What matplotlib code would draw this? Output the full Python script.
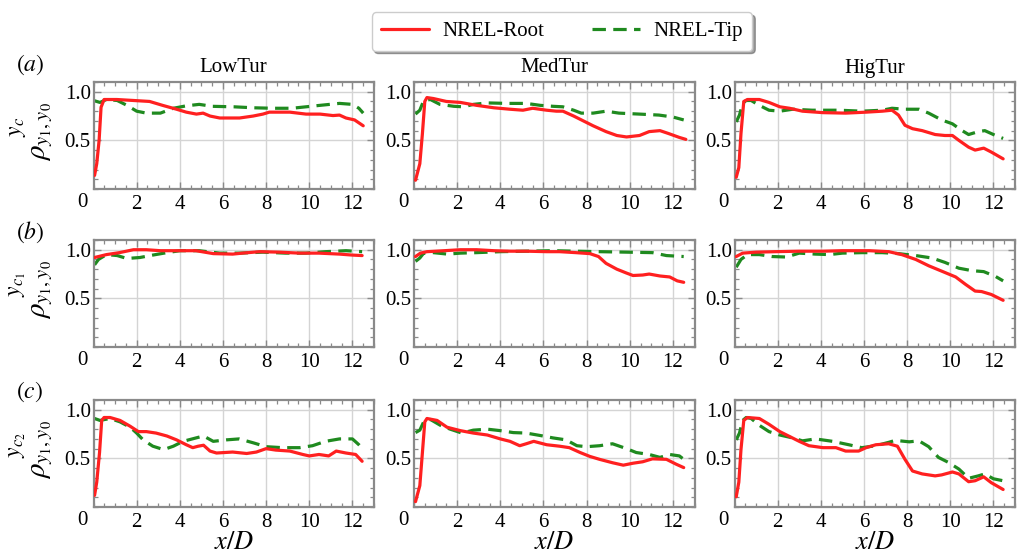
import matplotlib
matplotlib.use('Agg')
import matplotlib.pyplot as plt
from matplotlib.ticker import MultipleLocator, FixedLocator

plt.rcParams['font.family'] = ['Liberation Serif', 'DejaVu Serif']
plt.rcParams['mathtext.fontset'] = 'stix'

columns = ['LowTur', 'MedTur', 'HigTur']
row_tags = ['$(a)$', '$(b)$', '$(c)$']
ylabel_base = r'$\rho_{y_1,y_0}$'
ylabel_sups = [r'$y_c$', r'$y_{c_1}$', r'$y_{c_2}$']
series_names = ['NREL-Root', 'NREL-Tip']
xtick_values = [2, 4, 6, 8, 10, 12]
ytick_values = [0.5, 1.0]

# ---- row (a) ----
x_low_a_root = [0.05, 0.15, 0.26, 0.35, 0.49, 1.08, 1.85, 2.6, 3.2, 3.85, 4.3, 4.77, 5.08, 5.4, 5.85, 6.77, 7.4, 7.85, 8.15, 9.1, 9.85, 10.5, 11.1, 11.4, 11.7, 12.1, 12.5]
y_low_a_root = [0.14, 0.26, 0.50, 0.84, 0.92, 0.92, 0.91, 0.90, 0.86, 0.82, 0.79, 0.77, 0.78, 0.75, 0.73, 0.73, 0.75, 0.77, 0.79, 0.79, 0.77, 0.77, 0.755, 0.76, 0.73, 0.71, 0.65]
x_low_a_tip = [0.0, 0.3, 0.6, 1.1, 1.55, 2.0, 2.45, 3.1, 3.7, 4.3, 4.9, 5.5, 6.5, 7.4, 8.3, 9.2, 9.85, 10.5, 11.4, 12.0, 12.3, 12.5]
y_low_a_tip = [0.91, 0.89, 0.92, 0.91, 0.86, 0.80, 0.78, 0.78, 0.83, 0.855, 0.87, 0.85, 0.845, 0.835, 0.83, 0.83, 0.845, 0.86, 0.88, 0.87, 0.83, 0.78]

x_med_a_root = [0.07, 0.27, 0.39, 0.5, 0.6, 0.9, 1.5, 2.15, 2.9, 3.7, 4.45, 5.05, 5.5, 6.15, 6.6, 6.9, 7.4, 7.85, 8.3, 8.9, 9.4, 9.85, 10.45, 10.9, 11.4, 11.8, 12.3, 12.6]
y_med_a_root = [0.09, 0.26, 0.57, 0.90, 0.94, 0.93, 0.90, 0.89, 0.86, 0.835, 0.82, 0.81, 0.83, 0.81, 0.80, 0.80, 0.75, 0.70, 0.65, 0.59, 0.55, 0.535, 0.55, 0.59, 0.60, 0.57, 0.53, 0.51]
x_med_a_tip = [0.07, 0.27, 0.45, 0.76, 1.2, 1.85, 2.3, 2.75, 3.4, 4.3, 5.2, 5.85, 6.45, 6.9, 7.4, 7.75, 8.3, 8.9, 9.5, 10.45, 11.35, 12.0, 12.5]
y_med_a_tip = [0.77, 0.81, 0.91, 0.92, 0.87, 0.85, 0.845, 0.87, 0.885, 0.88, 0.88, 0.86, 0.85, 0.845, 0.81, 0.78, 0.78, 0.80, 0.78, 0.77, 0.76, 0.74, 0.71]

x_hig_a_root = [0.08, 0.2, 0.3, 0.43, 0.6, 1.15, 1.6, 2.1, 2.55, 3.15, 4.1, 5.15, 6.1, 6.85, 7.3, 7.6, 7.9, 8.25, 8.7, 9.3, 9.75, 10.1, 10.4, 10.85, 11.15, 11.55, 11.9, 12.45]
y_hig_a_root = [0.12, 0.22, 0.57, 0.90, 0.92, 0.92, 0.89, 0.845, 0.83, 0.80, 0.785, 0.78, 0.79, 0.80, 0.81, 0.76, 0.655, 0.62, 0.60, 0.56, 0.55, 0.55, 0.50, 0.43, 0.40, 0.42, 0.38, 0.31]
x_hig_a_tip = [0.08, 0.23, 0.38, 0.54, 0.77, 1.15, 1.6, 2.1, 2.7, 3.6, 4.85, 5.9, 6.85, 7.3, 7.9, 8.55, 9.0, 9.6, 10.1, 10.55, 10.85, 11.3, 11.6, 12.1, 12.45]
y_hig_a_tip = [0.69, 0.76, 0.88, 0.91, 0.91, 0.86, 0.81, 0.80, 0.82, 0.81, 0.81, 0.80, 0.81, 0.83, 0.82, 0.82, 0.78, 0.71, 0.67, 0.60, 0.56, 0.59, 0.60, 0.55, 0.52]

# ---- row (b) ----
x_low_b_root = [0.05, 0.6, 1.2, 1.85, 2.45, 3.1, 3.85, 4.75, 5.55, 6.45, 6.9, 7.7, 8.6, 9.55, 10.45, 11.4, 12.0, 12.45]
y_low_b_root = [0.92, 0.95, 0.97, 1.0, 1.0, 0.99, 0.99, 0.99, 0.96, 0.955, 0.965, 0.98, 0.975, 0.965, 0.965, 0.955, 0.945, 0.94]
x_low_b_tip = [0.05, 0.23, 0.6, 1.1, 1.55, 2.15, 2.75, 3.4, 4.0, 4.9, 5.85, 6.75, 7.85, 8.9, 9.85, 10.75, 11.7, 12.45]
y_low_b_tip = [0.845, 0.90, 0.95, 0.94, 0.91, 0.92, 0.945, 0.97, 0.99, 0.99, 0.965, 0.965, 0.975, 0.965, 0.965, 0.98, 0.99, 0.98]

x_med_b_root = [0.07, 0.3, 0.6, 1.4, 2.15, 2.9, 3.7, 4.45, 5.2, 6.15, 6.75, 7.5, 8.15, 8.55, 8.9, 9.4, 9.85, 10.15, 10.6, 10.9, 11.4, 11.85, 12.2, 12.5]
y_med_b_root = [0.93, 0.965, 0.98, 0.99, 1.0, 1.0, 0.99, 0.985, 0.985, 0.98, 0.98, 0.97, 0.96, 0.93, 0.86, 0.80, 0.76, 0.735, 0.74, 0.75, 0.73, 0.72, 0.68, 0.665]
x_med_b_tip = [0.07, 0.27, 0.45, 0.9, 1.55, 2.15, 2.9, 4.0, 5.2, 6.45, 7.5, 8.6, 9.85, 11.05, 11.7, 12.5]
y_med_b_tip = [0.88, 0.915, 0.965, 0.97, 0.955, 0.965, 0.97, 0.98, 0.985, 0.99, 0.985, 0.98, 0.975, 0.97, 0.94, 0.93]

x_hig_b_root = [0.08, 0.38, 1.0, 1.9, 3.0, 4.1, 5.0, 6.25, 7.15, 7.75, 8.4, 9.0, 9.6, 10.25, 10.7, 11.15, 11.45, 11.9, 12.45]
y_hig_b_root = [0.93, 0.965, 0.975, 0.98, 0.985, 0.985, 0.99, 0.99, 0.98, 0.95, 0.90, 0.835, 0.78, 0.72, 0.645, 0.575, 0.57, 0.54, 0.48]
x_hig_b_tip = [0.08, 0.3, 0.6, 1.15, 1.75, 2.4, 3.0, 3.75, 4.4, 5.0, 5.9, 6.85, 7.6, 8.4, 9.15, 9.75, 10.4, 11.0, 11.55, 12.1, 12.45]
y_hig_b_tip = [0.82, 0.90, 0.95, 0.95, 0.93, 0.925, 0.965, 0.955, 0.95, 0.965, 0.97, 0.97, 0.96, 0.94, 0.915, 0.87, 0.81, 0.785, 0.775, 0.725, 0.68]

# ---- row (c) ----
x_low_c_root = [0.05, 0.15, 0.28, 0.38, 0.49, 0.77, 1.23, 1.7, 2.08, 2.45, 2.9, 3.4, 3.85, 4.3, 4.6, 4.85, 5.1, 5.4, 5.7, 6.45, 7.1, 7.55, 8.0, 8.45, 9.1, 9.7, 10.0, 10.45, 10.9, 11.25, 11.7, 12.15, 12.45]
y_low_c_root = [0.12, 0.255, 0.56, 0.89, 0.92, 0.92, 0.89, 0.83, 0.775, 0.775, 0.76, 0.73, 0.69, 0.64, 0.61, 0.625, 0.635, 0.575, 0.555, 0.565, 0.55, 0.565, 0.60, 0.585, 0.575, 0.54, 0.525, 0.54, 0.525, 0.575, 0.555, 0.54, 0.47]
x_low_c_tip = [0.05, 0.3, 0.77, 1.23, 1.7, 2.0, 2.3, 2.75, 3.25, 3.7, 4.15, 4.75, 5.1, 5.55, 6.15, 6.75, 7.4, 8.0, 8.75, 9.55, 10.15, 10.75, 11.4, 12.0, 12.3, 12.5]
y_low_c_tip = [0.91, 0.89, 0.91, 0.875, 0.82, 0.76, 0.69, 0.625, 0.59, 0.625, 0.675, 0.71, 0.73, 0.675, 0.69, 0.70, 0.66, 0.62, 0.61, 0.61, 0.63, 0.675, 0.70, 0.70, 0.64, 0.59]

x_med_c_root = [0.07, 0.27, 0.39, 0.5, 0.6, 1.07, 1.53, 2.15, 2.75, 3.4, 4.0, 4.45, 4.9, 5.2, 5.55, 6.15, 6.75, 7.2, 7.7, 8.15, 8.6, 9.2, 9.7, 10.15, 10.6, 11.05, 11.7, 12.15, 12.5]
y_med_c_root = [0.055, 0.22, 0.56, 0.875, 0.91, 0.89, 0.82, 0.785, 0.76, 0.74, 0.70, 0.675, 0.63, 0.65, 0.675, 0.64, 0.625, 0.61, 0.56, 0.52, 0.49, 0.455, 0.43, 0.45, 0.465, 0.495, 0.49, 0.44, 0.405]
x_med_c_tip = [0.07, 0.27, 0.48, 0.76, 1.22, 1.68, 2.22, 2.75, 3.4, 4.0, 4.6, 5.2, 5.85, 6.45, 7.05, 7.55, 8.0, 8.6, 9.2, 9.85, 10.3, 10.9, 11.4, 11.85, 12.3, 12.5]
y_med_c_tip = [0.765, 0.79, 0.89, 0.90, 0.84, 0.80, 0.76, 0.79, 0.80, 0.785, 0.765, 0.76, 0.735, 0.71, 0.69, 0.63, 0.62, 0.63, 0.65, 0.60, 0.56, 0.54, 0.51, 0.54, 0.525, 0.49]

x_hig_c_root = [0.08, 0.2, 0.3, 0.43, 0.6, 1.15, 1.6, 2.1, 2.55, 3.0, 3.45, 4.1, 4.7, 5.15, 5.75, 6.1, 6.55, 7.15, 7.55, 7.9, 8.25, 8.7, 9.3, 9.6, 10.1, 10.4, 10.85, 11.15, 11.55, 11.9, 12.45]
y_hig_c_root = [0.105, 0.255, 0.59, 0.89, 0.92, 0.91, 0.85, 0.775, 0.725, 0.675, 0.63, 0.61, 0.61, 0.575, 0.575, 0.61, 0.64, 0.65, 0.625, 0.49, 0.37, 0.34, 0.32, 0.33, 0.36, 0.34, 0.26, 0.27, 0.31, 0.25, 0.18]
x_hig_c_tip = [0.08, 0.23, 0.38, 0.54, 0.77, 1.15, 1.6, 2.1, 2.7, 3.15, 3.75, 4.55, 5.3, 5.9, 6.55, 7.15, 7.45, 8.1, 8.55, 9.0, 9.45, 9.9, 10.4, 10.85, 11.3, 11.6, 12.0, 12.45]
y_hig_c_tip = [0.69, 0.76, 0.89, 0.92, 0.91, 0.84, 0.775, 0.74, 0.71, 0.68, 0.70, 0.675, 0.64, 0.61, 0.63, 0.665, 0.685, 0.67, 0.68, 0.62, 0.51, 0.46, 0.39, 0.295, 0.32, 0.34, 0.29, 0.27]

panels = [
    [((x_low_a_root, y_low_a_root), (x_low_a_tip, y_low_a_tip)),
     ((x_med_a_root, y_med_a_root), (x_med_a_tip, y_med_a_tip)),
     ((x_hig_a_root, y_hig_a_root), (x_hig_a_tip, y_hig_a_tip))],
    [((x_low_b_root, y_low_b_root), (x_low_b_tip, y_low_b_tip)),
     ((x_med_b_root, y_med_b_root), (x_med_b_tip, y_med_b_tip)),
     ((x_hig_b_root, y_hig_b_root), (x_hig_b_tip, y_hig_b_tip))],
    [((x_low_c_root, y_low_c_root), (x_low_c_tip, y_low_c_tip)),
     ((x_med_c_root, y_med_c_root), (x_med_c_tip, y_med_c_tip)),
     ((x_hig_c_root, y_hig_c_root), (x_hig_c_tip, y_hig_c_tip))],
]

W, H = 1018, 558
fig = plt.figure(figsize=(W / 100, H / 100), dpi=100)

col_left = [93.5, 414, 734.5]
col_w = 280.5
row_top = [82, 240, 400]
row_h = 107

RED = '#ff2020'
GREEN = '#1f8a1f'
SPINE = '#8a8a8a'
SERIF = ['Liberation Serif', 'DejaVu Serif']
TICK_FS = 15

handles = None
for r in range(3):
    for c in range(3):
        ax = fig.add_axes([col_left[c] / W, 1 - (row_top[r] + row_h) / H, col_w / W, row_h / H])
        (xr, yr), (xt, yt) = panels[r][c]
        l1, = ax.plot(xr, yr, color=RED, lw=2.3, solid_capstyle='round', label=series_names[0], zorder=3)
        l2, = ax.plot(xt, yt, color=GREEN, lw=2.3, ls=(0, (4.2, 2.3)), label=series_names[1], zorder=2)
        handles = [l1, l2]
        ax.set_xlim(0, 13)
        ax.set_ylim(0, 1.1)
        ax.xaxis.set_minor_locator(MultipleLocator(0.5))
        ax.yaxis.set_minor_locator(MultipleLocator(0.1))
        ax.set_xticks(xtick_values)
        ax.set_xticklabels([str(v) for v in xtick_values], fontfamily=SERIF, fontsize=TICK_FS)
        ax.set_yticks(ytick_values)
        ax.set_yticklabels([f'{v:.1f}' for v in ytick_values], fontfamily=SERIF, fontsize=TICK_FS)
        ax.grid(True, which='major', color='#d4d4d4', lw=1.0, zorder=0)
        ax.set_axisbelow(True)
        for s in ax.spines.values():
            s.set_color(SPINE)
            s.set_linewidth(1.6)
        ax.tick_params(which='both', direction='in', top=True, right=True, color=SPINE)
        ax.tick_params(which='major', length=5, width=1.0)
        ax.tick_params(which='minor', length=3, width=0.9)
        ax.tick_params(axis='x', pad=4)
        ax.tick_params(axis='y', pad=2)
        ax.annotate('0', xy=(0, 0), xycoords='axes fraction', xytext=(-11, -4),
                    textcoords='offset pixels', ha='center', va='top', fontsize=TICK_FS,
                    fontfamily=SERIF)
        if c == 0:
            ax.set_ylabel(ylabel_base, fontsize=21)
            ax.yaxis.set_label_coords(-0.137, 0.54)
            ax.text(-0.272, 0.58, ylabel_sups[r], transform=ax.transAxes, rotation=90,
                    ha='center', va='center', fontsize=17)
        if r == 0:
            fig.text((col_left[c] + col_w / 2) / W, 1 - 68 / H, columns[c], ha='center', va='center', fontsize=15)
        if r == 2:
            fig.text((col_left[c] + col_w / 2) / W, 1 - 543 / H, r'$x/D$', ha='center', va='center', fontsize=19)

for r, yc in enumerate([65, 232, 392]):
    fig.text(30 / W, 1 - yc / H, row_tags[r], ha='center', va='center', fontsize=17)

leg = fig.legend(handles, series_names, loc='upper center', bbox_to_anchor=(562 / W, 1 - 2 / H),
                 ncol=2, fontsize=15, frameon=True, fancybox=True, shadow=True,
                 handlelength=2.3, handletextpad=0.65, columnspacing=2.3, borderpad=0.45)
leg.get_frame().set_edgecolor('#cccccc')

fig.savefig('out.png', dpi=100)
